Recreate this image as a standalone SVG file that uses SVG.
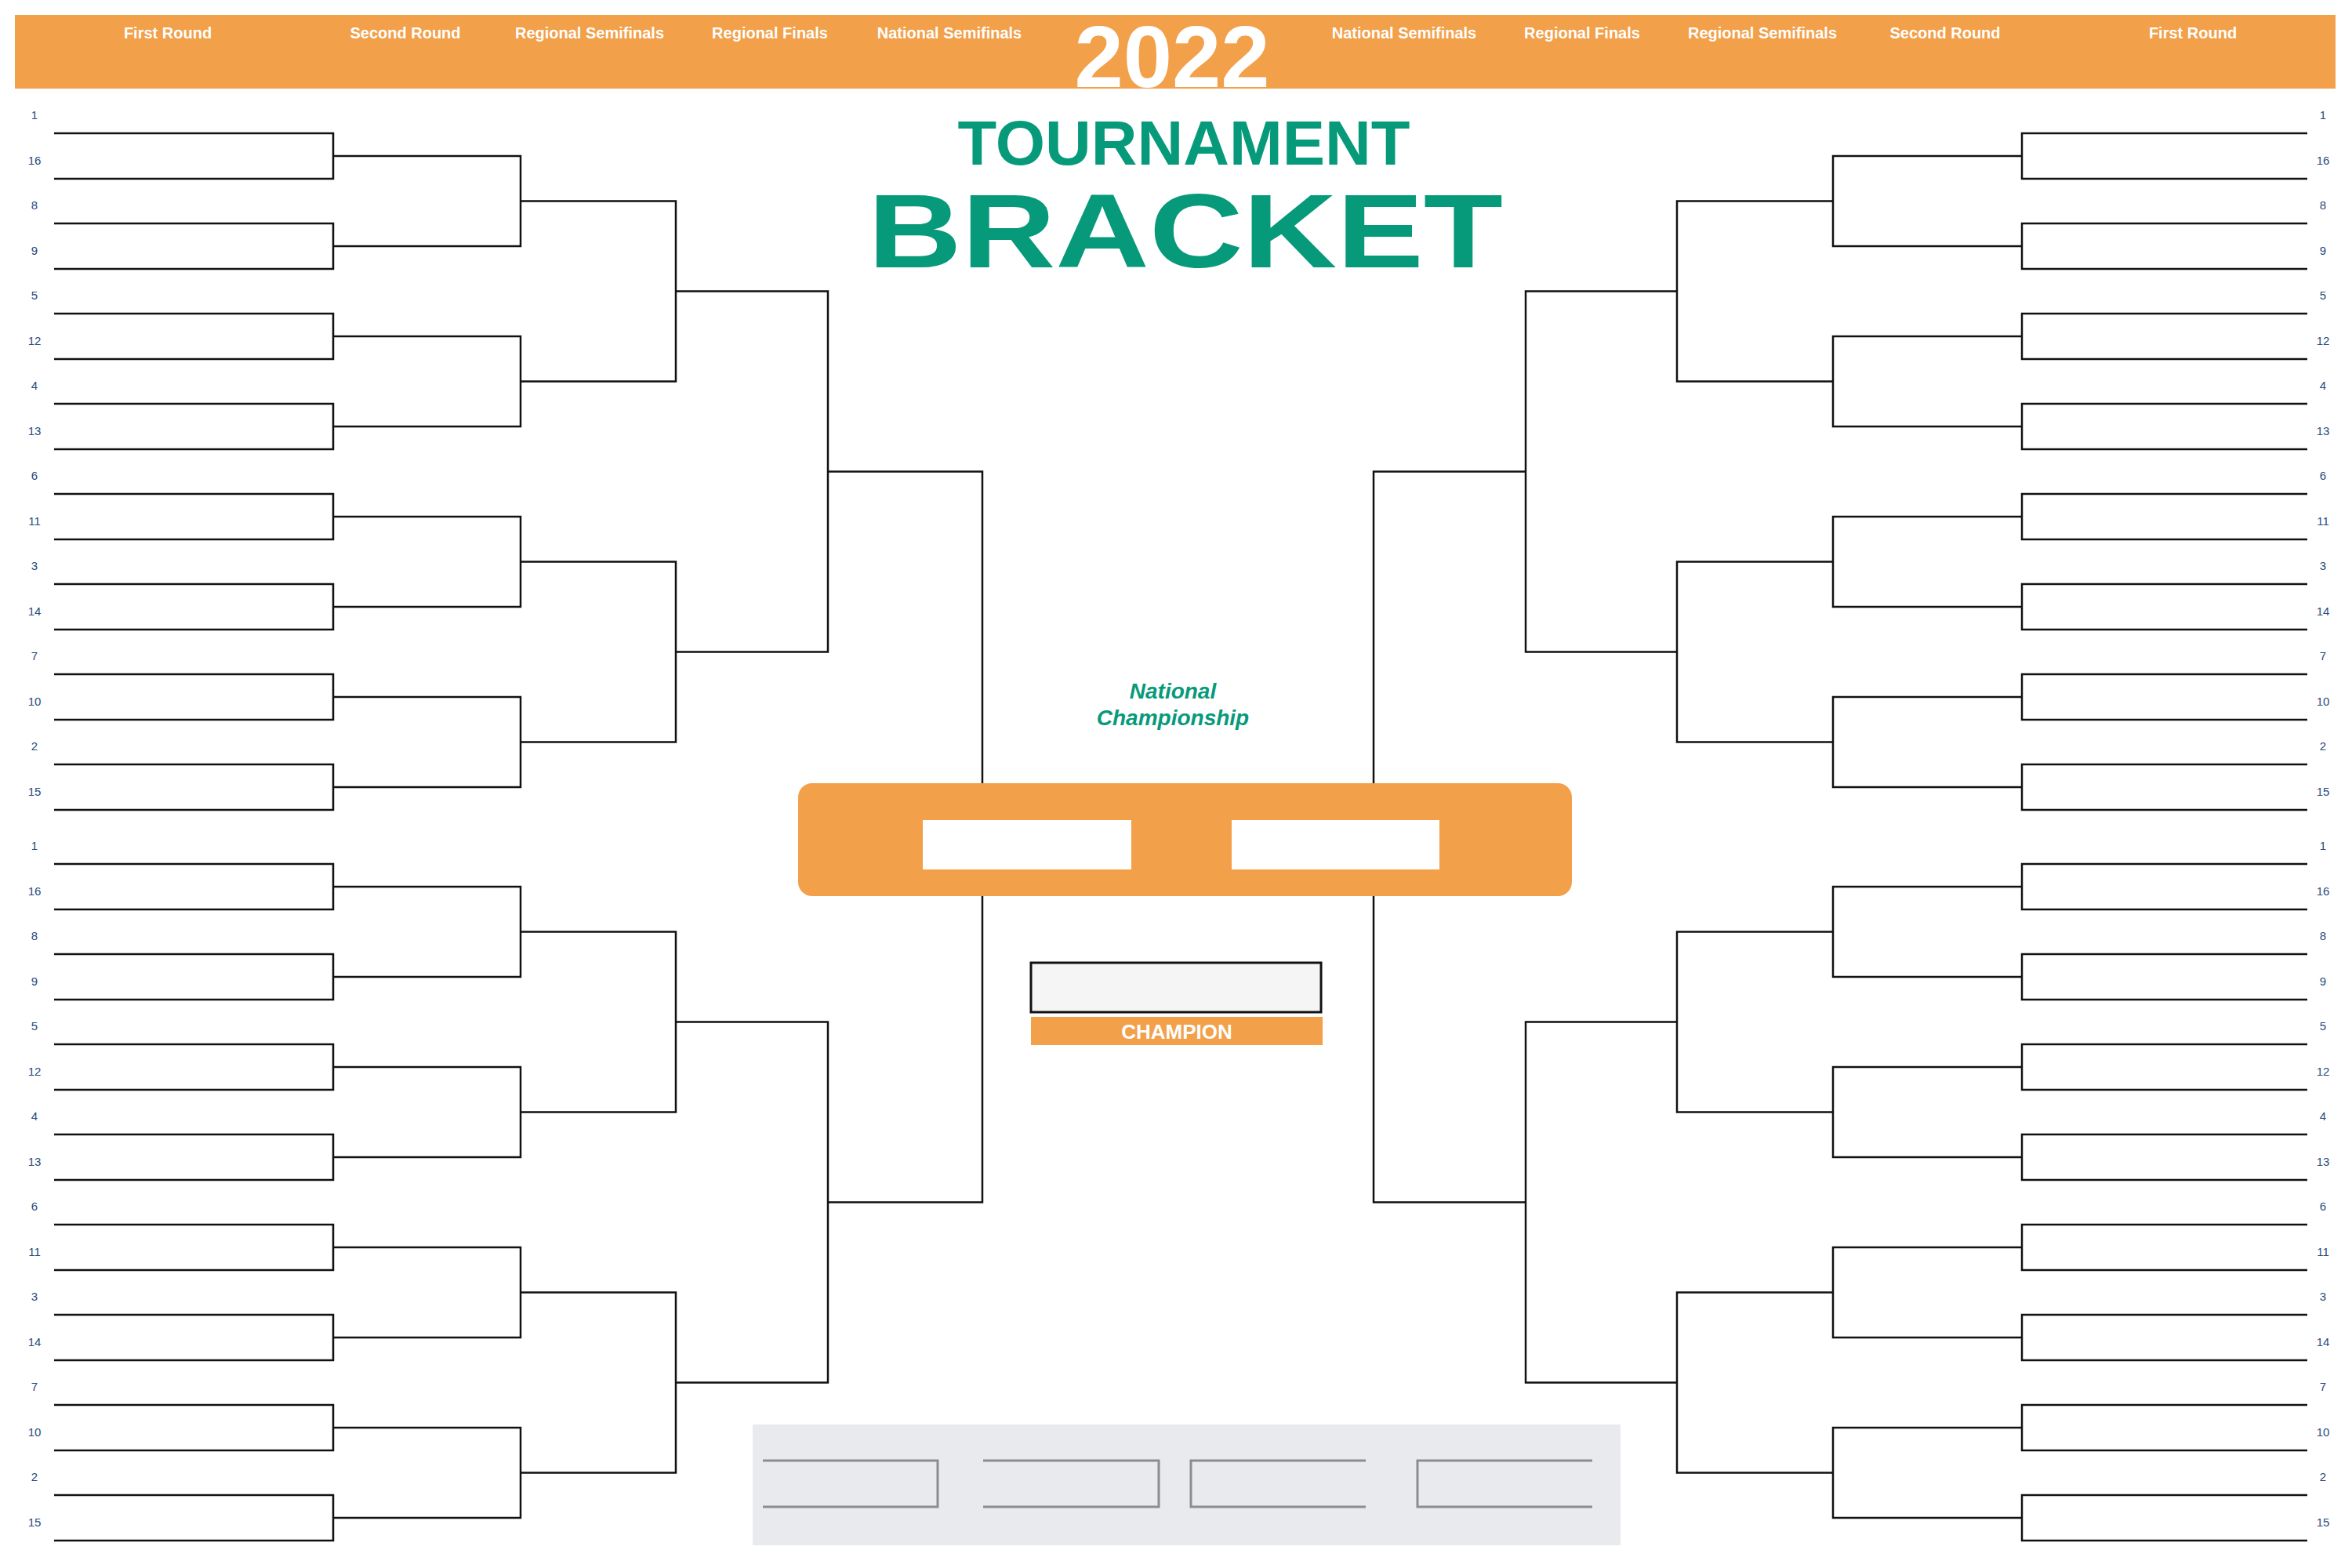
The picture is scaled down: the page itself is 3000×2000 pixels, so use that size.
<svg xmlns="http://www.w3.org/2000/svg" width="3000" height="2000" viewBox="0 0 3000 2000">
<style>
.hd{font-family:"Liberation Sans",Arial,sans-serif;font-weight:bold;font-size:20px;fill:#fff;text-anchor:middle}
.sd{font-family:"Liberation Sans",Arial,sans-serif;font-size:15px;fill:#2a4a7a;text-anchor:middle}
.br{fill:none;stroke:#111;stroke-width:2.5}
.gb{fill:none;stroke:#8a8e92;stroke-width:3}
.gr{fill:#079a7a;font-family:"Liberation Sans",Arial,sans-serif;font-weight:900;text-anchor:middle}
</style>
<rect width="3000" height="2000" fill="#fff"/>
<g id="header">
<rect x="19" y="19" width="2960" height="94" fill="#f2a04a"/>
<text class="hd" x="214" y="49">First Round</text>
<text class="hd" x="517" y="49">Second Round</text>
<text class="hd" x="752" y="49">Regional Semifinals</text>
<text class="hd" x="982" y="49">Regional Finals</text>
<text class="hd" x="1211" y="49">National Semifinals</text>
<text class="hd" x="1791" y="49">National Semifinals</text>
<text class="hd" x="2018" y="49">Regional Finals</text>
<text class="hd" x="2248" y="49">Regional Semifinals</text>
<text class="hd" x="2481" y="49">Second Round</text>
<text class="hd" x="2797" y="49">First Round</text>
<text x="1495" y="111" font-family="Liberation Sans,Arial,sans-serif" font-weight="bold" font-size="112" fill="#fff" text-anchor="middle">2022</text>
</g>
<g id="title">
<text class="gr" x="1510" y="210" font-size="80" textLength="577" lengthAdjust="spacingAndGlyphs">TOURNAMENT</text>
<text class="gr" x="1512" y="341" font-size="134" textLength="810" lengthAdjust="spacingAndGlyphs">BRACKET</text>
</g>
<g id="connectors">
<path class="br" d="M69 170H425V228H69M69 285H425V343H69M69 400H425V458H69M69 515H425V573H69M69 630H425V688H69M69 745H425V803H69M69 860H425V918H69M69 975H425V1033H69M69 1102H425V1160H69M69 1217H425V1275H69M69 1332H425V1390H69M69 1447H425V1505H69M69 1562H425V1620H69M69 1677H425V1735H69M69 1792H425V1850H69M69 1907H425V1965H69"/>
<path class="br" d="M425 199H664V314H425M425 429H664V544H425M425 659H664V774H425M425 889H664V1004H425M425 1131H664V1246H425M425 1361H664V1476H425M425 1591H664V1706H425M425 1821H664V1936H425"/>
<path class="br" d="M664 256.5H862V486.5H664M664 716.5H862V946.5H664M664 1188.5H862V1418.5H664M664 1648.5H862V1878.5H664"/>
<path class="br" d="M862 371.5H1056V831.5H862M862 1303.5H1056V1763.5H862"/>
<path class="br" d="M1056 601.5H1253V1533.5H1056"/>
<path class="br" d="M2943 170H2579V228H2943M2943 285H2579V343H2943M2943 400H2579V458H2943M2943 515H2579V573H2943M2943 630H2579V688H2943M2943 745H2579V803H2943M2943 860H2579V918H2943M2943 975H2579V1033H2943M2943 1102H2579V1160H2943M2943 1217H2579V1275H2943M2943 1332H2579V1390H2943M2943 1447H2579V1505H2943M2943 1562H2579V1620H2943M2943 1677H2579V1735H2943M2943 1792H2579V1850H2943M2943 1907H2579V1965H2943"/>
<path class="br" d="M2579 199H2338V314H2579M2579 429H2338V544H2579M2579 659H2338V774H2579M2579 889H2338V1004H2579M2579 1131H2338V1246H2579M2579 1361H2338V1476H2579M2579 1591H2338V1706H2579M2579 1821H2338V1936H2579"/>
<path class="br" d="M2338 256.5H2139V486.5H2338M2338 716.5H2139V946.5H2338M2338 1188.5H2139V1418.5H2338M2338 1648.5H2139V1878.5H2338"/>
<path class="br" d="M2139 371.5H1946V831.5H2139M2139 1303.5H1946V1763.5H2139"/>
<path class="br" d="M1946 601.5H1752V1533.5H1946"/>
</g>
<g id="seeds-left">
<text class="sd" x="44" y="152">1</text><text class="sd" x="44" y="210">16</text>
<text class="sd" x="44" y="267">8</text><text class="sd" x="44" y="325">9</text>
<text class="sd" x="44" y="382">5</text><text class="sd" x="44" y="440">12</text>
<text class="sd" x="44" y="497">4</text><text class="sd" x="44" y="555">13</text>
<text class="sd" x="44" y="612">6</text><text class="sd" x="44" y="670">11</text>
<text class="sd" x="44" y="727">3</text><text class="sd" x="44" y="785">14</text>
<text class="sd" x="44" y="842">7</text><text class="sd" x="44" y="900">10</text>
<text class="sd" x="44" y="957">2</text><text class="sd" x="44" y="1015">15</text>
<text class="sd" x="44" y="1084">1</text><text class="sd" x="44" y="1142">16</text>
<text class="sd" x="44" y="1199">8</text><text class="sd" x="44" y="1257">9</text>
<text class="sd" x="44" y="1314">5</text><text class="sd" x="44" y="1372">12</text>
<text class="sd" x="44" y="1429">4</text><text class="sd" x="44" y="1487">13</text>
<text class="sd" x="44" y="1544">6</text><text class="sd" x="44" y="1602">11</text>
<text class="sd" x="44" y="1659">3</text><text class="sd" x="44" y="1717">14</text>
<text class="sd" x="44" y="1774">7</text><text class="sd" x="44" y="1832">10</text>
<text class="sd" x="44" y="1889">2</text><text class="sd" x="44" y="1947">15</text>
</g>
<g id="seeds-right">
<text class="sd" x="2963" y="152">1</text><text class="sd" x="2963" y="210">16</text>
<text class="sd" x="2963" y="267">8</text><text class="sd" x="2963" y="325">9</text>
<text class="sd" x="2963" y="382">5</text><text class="sd" x="2963" y="440">12</text>
<text class="sd" x="2963" y="497">4</text><text class="sd" x="2963" y="555">13</text>
<text class="sd" x="2963" y="612">6</text><text class="sd" x="2963" y="670">11</text>
<text class="sd" x="2963" y="727">3</text><text class="sd" x="2963" y="785">14</text>
<text class="sd" x="2963" y="842">7</text><text class="sd" x="2963" y="900">10</text>
<text class="sd" x="2963" y="957">2</text><text class="sd" x="2963" y="1015">15</text>
<text class="sd" x="2963" y="1084">1</text><text class="sd" x="2963" y="1142">16</text>
<text class="sd" x="2963" y="1199">8</text><text class="sd" x="2963" y="1257">9</text>
<text class="sd" x="2963" y="1314">5</text><text class="sd" x="2963" y="1372">12</text>
<text class="sd" x="2963" y="1429">4</text><text class="sd" x="2963" y="1487">13</text>
<text class="sd" x="2963" y="1544">6</text><text class="sd" x="2963" y="1602">11</text>
<text class="sd" x="2963" y="1659">3</text><text class="sd" x="2963" y="1717">14</text>
<text class="sd" x="2963" y="1774">7</text><text class="sd" x="2963" y="1832">10</text>
<text class="sd" x="2963" y="1889">2</text><text class="sd" x="2963" y="1947">15</text>
</g>
<g id="national-championship">
<text x="1496" y="891" font-family="Liberation Sans,Arial,sans-serif" font-weight="bold" font-style="italic" font-size="28" fill="#079a7a" text-anchor="middle">National</text>
<text x="1496" y="925" font-family="Liberation Sans,Arial,sans-serif" font-weight="bold" font-style="italic" font-size="28" fill="#079a7a" text-anchor="middle">Championship</text>
<rect x="1018" y="999" width="987" height="144" rx="18" fill="#f2a04a"/>
<rect x="1177" y="1046" width="266" height="63" fill="#fff"/>
<rect x="1571" y="1046" width="265" height="63" fill="#fff"/>
</g>
<g id="champion">
<rect x="1315" y="1228" width="370" height="63" fill="#f5f5f5" stroke="#111" stroke-width="3"/>
<rect x="1315" y="1297" width="372" height="36" fill="#f2a04a"/>
<text x="1501" y="1325" font-family="Liberation Sans,Arial,sans-serif" font-weight="bold" font-size="26" fill="#fff" text-anchor="middle">CHAMPION</text>
</g>
<g id="final-four-panel">
<rect x="960" y="1817" width="1107" height="154" fill="#e8eaed"/>
<path class="gb" d="M973 1863H1196V1922H973M1254 1863H1478V1922H1254M1742 1863H1519V1922H1742M2031 1863H1808V1922H2031"/>
</g>
</svg>
